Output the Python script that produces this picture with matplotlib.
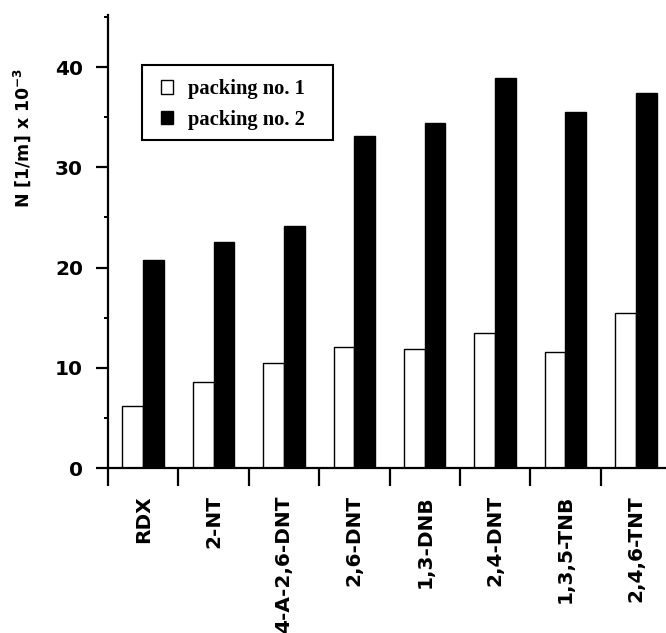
import matplotlib
matplotlib.use("Agg")
import matplotlib.pyplot as plt
import numpy as np
from matplotlib.ticker import MultipleLocator, FixedLocator
from matplotlib.patches import Patch, Rectangle

categories = ["RDX", "2-NT", "4-A-2,6-DNT", "2,6-DNT", "1,3-DNB", "2,4-DNT", "1,3,5-TNB", "2,4,6-TNT"]
packing1 = [6.2, 8.6, 10.5, 12.1, 11.9, 13.5, 11.6, 15.5]
packing2 = [20.8, 22.6, 24.1, 33.1, 34.4, 38.9, 35.5, 37.4]
yticks = [0, 10, 20, 30, 40]

plt.rcParams['mathtext.fontset'] = 'custom'
plt.rcParams['mathtext.rm'] = 'DejaVu Sans:bold'
plt.rcParams['mathtext.bf'] = 'DejaVu Sans:bold'
plt.rcParams['mathtext.default'] = 'bf'

fig = plt.figure(figsize=(6.66, 6.33), dpi=100)
AW, AH = 563, 453
ax = fig.add_axes([108 / 666, 1 - 468 / 633, AW / 666, AH / 633])

x = np.arange(len(categories))
bw = 0.295
ax.bar(x - bw / 2, packing1, bw, color="white", edgecolor="black", linewidth=1.0, label="packing no. 1")
ax.bar(x + bw / 2, packing2, bw, color="black", edgecolor="black", linewidth=1.0, label="packing no. 2")

ax.set_xlim(-0.5, 7.5)
ax.set_ylim(0, 45.2)

for s in ["top", "right"]:
    ax.spines[s].set_visible(False)
for s in ["left", "bottom"]:
    ax.spines[s].set_linewidth(1.6)

ax.yaxis.set_major_locator(FixedLocator(yticks))
ax.yaxis.set_minor_locator(MultipleLocator(5))
ax.tick_params(axis="y", which="major", direction="out", length=9, width=1.6, labelsize=14.5, pad=9)
ax.tick_params(axis="y", which="minor", direction="out", length=3, width=1.4)

ax.set_xticks(x)
ax.set_xticklabels(categories, rotation=90)
ax.xaxis.set_minor_locator(FixedLocator(np.arange(-0.5, 8, 1.0)))
ax.tick_params(axis="x", which="major", length=0, pad=19.5, labelsize=14.5)
ax.tick_params(axis="x", which="minor", direction="out", length=13, width=1.6)

for lab in ax.get_xticklabels() + ax.get_yticklabels():
    lab.set_fontfamily("DejaVu Sans")
    lab.set_fontweight("bold")

fig.text(22 / 666, 1 - 137.5 / 633, r"N [1/m] x 10$^{-3}$", rotation=90, ha="center", va="center",
         fontsize=12.5, fontweight="bold", fontfamily="DejaVu Sans")

# legend frame
def px(xp, yp):
    return ((xp - 108) / AW, (468 - yp) / AH)

x0, y0 = px(142, 140)
x1, y1 = px(333, 65)
ax.add_patch(Rectangle((x0, y0), x1 - x0, y1 - y0, transform=ax.transAxes, facecolor="white",
                       edgecolor="black", linewidth=1.5, zorder=5, clip_on=False))

handles = [Patch(facecolor="white", edgecolor="black", linewidth=1.0),
           Patch(facecolor="black", edgecolor="black", linewidth=1.0)]
leg = ax.legend(handles, ["packing no. 1", "packing no. 2"], loc="upper left",
                bbox_to_anchor=px(161, 79), borderaxespad=0, frameon=False,
                handlelength=0.58, handleheight=0.65,
                handletextpad=0.75, borderpad=0, labelspacing=0.52,
                prop={"family": "Liberation Serif", "weight": "bold", "size": 14.8})
leg.set_zorder(6)

fig.savefig("out.png", dpi=100)
